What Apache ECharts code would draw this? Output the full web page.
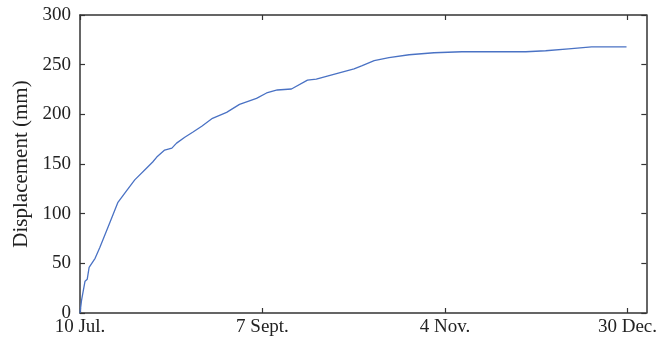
<!DOCTYPE html>
<html>
<head>
<meta charset="utf-8">
<script src="https://cdn.jsdelivr.net/npm/echarts@6/dist/echarts.min.js"></script>
<style>html,body{margin:0;padding:0;background:#fff;}#c{width:660px;height:345px;}</style>
</head>
<body>
<div id="c"></div>
<script>
// days since 10 Jul.
const days = [0, 0.5, 1.6, 2.3, 2.9, 4.8, 6.3, 9.5, 12, 14.3, 17.4, 21.2, 23.1, 24.4, 26.9, 29.2, 30.7, 33.3, 35.8, 38.7, 42.1, 46.6, 50.7, 56.1, 59.3, 62.7, 67.2, 72.3, 75.1, 78.6, 82.4, 87.1, 89.7, 93.5, 98.2, 104.6, 112.5, 121.4, 141.7, 148, 155.3, 162.6, 173.7];
const displacement = [0, 13, 32, 34, 46, 55, 66, 91, 111, 121, 134, 146, 152, 157, 164, 166, 171, 177, 182, 188, 196, 202, 210, 216, 221.5, 224.5, 225.5, 234.5, 235.5, 238.5, 241.7, 245.7, 249, 254, 257, 260, 262, 263, 263, 264, 266, 268, 268];
const xTickValues = [0, 58, 116, 174];
const xTickLabels = ['10 Jul.', '7 Sept.', '4 Nov.', '30 Dec.'];

const chart = echarts.init(document.getElementById('c'));
const font = 'Liberation Serif';
const axisColor = '#333';
const pts = days.map((d, i) => [d, displacement[i]]);
const tickStyle = {color: axisColor, width: 1.2};
chart.setOption({
  animation: false,
  grid: {left: 80, right: 13, top: 15, bottom: 32},
  xAxis: [{
    type: 'value', min: 0, max: 180,
    axisLine: {onZero: false, lineStyle: {color: axisColor, width: 1.5}},
    axisTick: {inside: true, length: 5, customValues: xTickValues, lineStyle: tickStyle},
    axisLabel: {customValues: xTickValues, margin: 5, color: '#222', fontFamily: font, fontSize: 19,
      formatter: v => { const i = xTickValues.indexOf(v); return i >= 0 ? xTickLabels[i] : ''; }},
    splitLine: {show: false}
  }, {
    type: 'value', min: 0, max: 180, position: 'top',
    axisLine: {show: true, onZero: false, lineStyle: {color: axisColor, width: 1.5}},
    axisTick: {show: true, inside: true, length: 5, customValues: xTickValues, lineStyle: tickStyle},
    axisLabel: {show: false},
    splitLine: {show: false}
  }],
  yAxis: [{
    type: 'value', min: 0, max: 300, interval: 50,
    name: 'Displacement (mm)', nameLocation: 'middle', nameGap: 46,
    nameTextStyle: {color: '#222', fontFamily: font, fontSize: 21},
    axisLine: {show: true, onZero: false, lineStyle: {color: axisColor, width: 1.5}},
    axisTick: {show: true, inside: true, length: 5, lineStyle: tickStyle},
    axisLabel: {margin: 9, color: '#222', fontFamily: font, fontSize: 19},
    splitLine: {show: false}
  }, {
    type: 'value', min: 0, max: 300, interval: 50, position: 'right',
    axisLine: {show: true, onZero: false, lineStyle: {color: axisColor, width: 1.5}},
    axisTick: {show: true, inside: true, length: 5, lineStyle: tickStyle},
    axisLabel: {show: false},
    splitLine: {show: false}
  }],
  series: [{
    type: 'line', data: pts, showSymbol: false, symbol: 'none',
    lineStyle: {color: '#4a72c4', width: 1.3}
  }]
});
</script>
</body>
</html>
